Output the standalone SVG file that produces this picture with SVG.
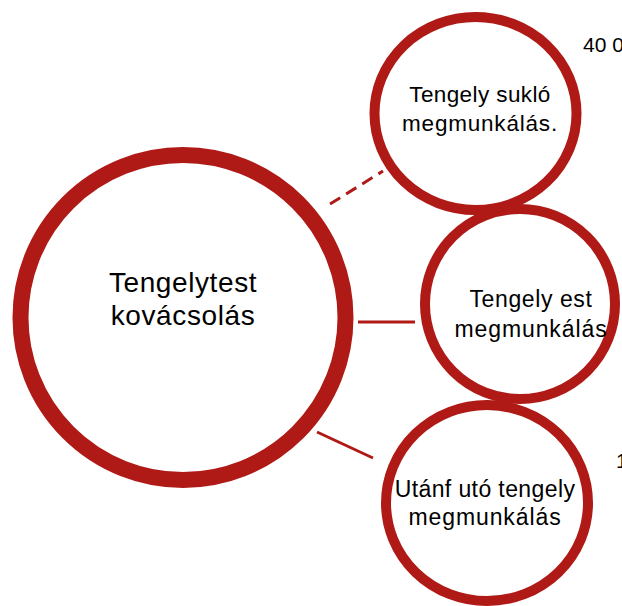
<svg xmlns="http://www.w3.org/2000/svg" width="622" height="606" viewBox="0 0 622 606">
<style>
.ring{fill:none;stroke:#B01A16;}
.lbl{font-family:"Liberation Sans",Arial,sans-serif;fill:#000;text-anchor:middle;}
.conn{stroke:#B01A16;stroke-width:3;fill:none;}
.note{font-family:"Liberation Sans",Arial,sans-serif;fill:#000;font-size:21px;}
</style>
<rect width="622" height="606" fill="#fff"/>
<g id="connectors">
<line class="conn" x1="330" y1="204" x2="383" y2="171" stroke-dasharray="12 7"/>
<line class="conn" x1="358" y1="322" x2="415" y2="322"/>
<line class="conn" x1="317" y1="432" x2="373" y2="458"/>
</g>
<g id="node-main">
<circle class="ring" cx="183" cy="317.5" r="162.5" stroke-width="16"/>
<text class="lbl" font-size="28" letter-spacing="0.6" x="183" y="292">Tengelytest</text>
<text class="lbl" font-size="28" letter-spacing="0.6" x="183" y="325">kovácsolás</text>
</g>
<g id="node-top">
<ellipse class="ring" cx="475.5" cy="113.5" rx="101" ry="96.5" stroke-width="10"/>
<text class="lbl" font-size="22.5" letter-spacing="0.4" x="480" y="102">Tengely sukló</text>
<text class="lbl" font-size="22.5" letter-spacing="0.8" x="480" y="131">megmunkálás.</text>
</g>
<g id="node-middle">
<circle class="ring" cx="520" cy="304" r="95" stroke-width="10"/>
<text class="lbl" font-size="23" letter-spacing="0.6" x="531" y="307">Tengely est</text>
<text class="lbl" font-size="23" letter-spacing="0.9" x="531" y="337">megmunkálás</text>
</g>
<g id="node-bottom">
<ellipse class="ring" cx="487" cy="503" rx="101" ry="98" stroke-width="10"/>
<text class="lbl" font-size="23" letter-spacing="0.4" x="485" y="497">Utánf utó tengely</text>
<text class="lbl" font-size="23" letter-spacing="0.9" x="485" y="525">megmunkálás</text>
</g>
<text class="note" x="583" y="52">40 0</text>
<text class="note" x="616" y="468">1</text>
</svg>
